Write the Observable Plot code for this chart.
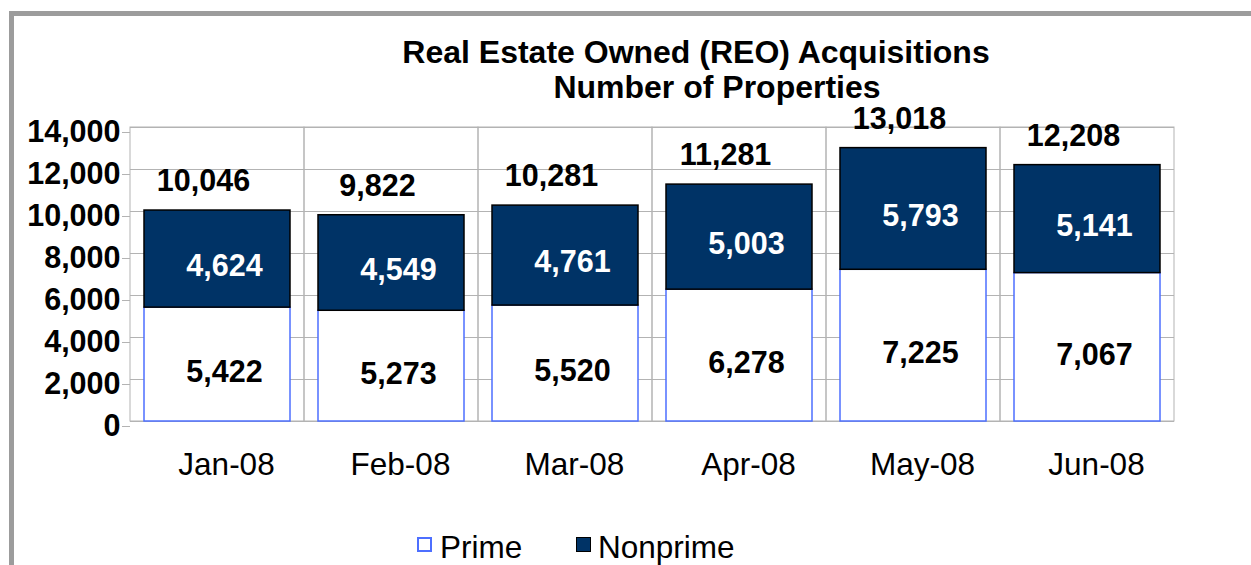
<!DOCTYPE html>
<html>
<head>
<meta charset="utf-8">
<script src="https://cdn.jsdelivr.net/npm/d3@7"></script>
<script src="https://cdn.jsdelivr.net/npm/@observablehq/plot@0.6"></script>
<style>
  html, body { margin: 0; padding: 0; background: #fff; overflow: hidden; }
  body { font-family: "Liberation Sans", Arial, sans-serif; }
  #page { position: relative; width: 1251px; height: 565px; overflow: hidden; }
  #frame { position: absolute; left: 9px; top: 11px; right: -10px; bottom: -10px;
           border-top: 5px solid #9c9c9c; border-left: 5px solid #9c9c9c; }
  .title { position: absolute; width: 600px; text-align: center; white-space: nowrap;
           font-weight: bold; font-size: 32px; line-height: 30px; color: #000; }
  #title1 { left: 396px; top: 37px; }
  #title2 { left: 417px; top: 72px; }
  #chart { position: absolute; left: 0; top: 80px; }
  .lg-box { position: absolute; top: 537px; width: 15px; height: 15px; box-sizing: border-box; }
  .lg-text { position: absolute; top: 532px; font-size: 31.5px; line-height: 30px; color: #000; white-space: nowrap; }
</style>
</head>
<body>
<div id="page">
  <div id="frame"></div>
  <div id="chart"></div>
  <div id="title1" class="title">Real Estate Owned (REO) Acquisitions</div>
  <div id="title2" class="title">Number of Properties</div>
  <div id="legend"></div>
</div>
<script>
// ---- data ----
const months = ["Jan-08", "Feb-08", "Mar-08", "Apr-08", "May-08", "Jun-08"];
const prime = [5422, 5273, 5520, 6278, 7225, 7067];
const nonprime = [4624, 4549, 4761, 5003, 5793, 5141];
const yTicks = [0, 2000, 4000, 6000, 8000, 10000, 12000, 14000];
const seriesNames = ["Prime", "Nonprime"];

// ---- build table ----
const rows = months.map((m, i) => ({
  month: m,
  prime: prime[i],
  nonprime: nonprime[i],
  total: prime[i] + nonprime[i]
}));
const fmt = d3.format(",");
const yMax = d3.max(yTicks);

const primeFill = "#ffffff", primeStroke = "#4d6fff";
const nonFill = "#003366", nonStroke = "#000000";
const gridColor = "#b3b3b3";

const chart = Plot.plot({
  width: 1251,
  height: 401,
  marginTop: 47,
  marginBottom: 60,
  marginLeft: 130,
  marginRight: 77,
  style: { fontFamily: "Liberation Sans, Arial, sans-serif", background: "transparent", color: "#000" },
  x: { domain: months, paddingInner: 0.16, paddingOuter: 0.08, label: null },
  y: { domain: [0, yMax], label: null },
  marks: [
    Plot.ruleY(yTicks, { stroke: gridColor, strokeWidth: 1 }),
    Plot.barY(months, { x: d => d, y1: 0, y2: yMax, fill: "none", stroke: gridColor, strokeWidth: 1, insetLeft: -14, insetRight: -14 }),
    Plot.axisY({ ticks: yTicks, tickFormat: fmt, tickSize: 8, tickPadding: 2, stroke: gridColor, fill: "#000",
                 fontSize: 30.5, fontWeight: "bold", dy: 5, label: null }),
    Plot.axisX({ tickSize: 0, tickPadding: 31, fontSize: 31.5, fill: "#000", dx: 9, label: null }),
    Plot.barY(rows, { x: "month", y1: 0, y2: "prime", fill: primeFill, stroke: primeStroke, strokeWidth: 1.5 }),
    Plot.barY(rows, { x: "month", y1: "prime", y2: "total", fill: nonFill, stroke: nonStroke, strokeWidth: 1.5 }),
    Plot.text(rows, { x: "month", y: d => d.prime / 2, text: d => fmt(d.prime), fontSize: 30.5, fontWeight: "bold", fill: "#000", dx: 7, dy: 8 }),
    Plot.text(rows, { x: "month", y: d => d.prime + d.nonprime / 2, text: d => fmt(d.nonprime), fontSize: 30.5, fontWeight: "bold", fill: "#fff", dx: 7, dy: 7 }),
    Plot.text(rows, { x: "month", y: "total", text: d => fmt(d.total), fontSize: 30.5, fontWeight: "bold", fill: "#000", dx: -14, dy: -29 })
  ]
});
document.getElementById("chart").appendChild(chart);

// ---- legend ----
const legend = document.getElementById("legend");
const legendItems = [
  { name: seriesNames[0], box: 417, text: 440, fill: primeFill, stroke: primeStroke, bw: 2 },
  { name: seriesNames[1], box: 576, text: 598, fill: nonFill, stroke: nonStroke, bw: 1.5 }
];
for (const it of legendItems) {
  const b = document.createElement("div");
  b.className = "lg-box";
  b.style.left = it.box + "px";
  b.style.background = it.fill;
  b.style.border = it.bw + "px solid " + it.stroke;
  legend.appendChild(b);
  const t = document.createElement("div");
  t.className = "lg-text";
  t.style.left = it.text + "px";
  t.textContent = it.name;
  legend.appendChild(t);
}
</script>
</body>
</html>
